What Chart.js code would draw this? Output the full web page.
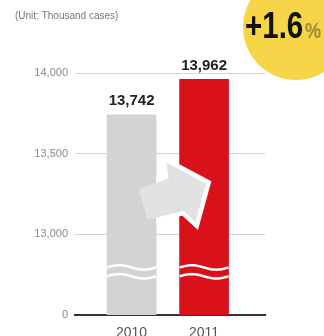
<!DOCTYPE html>
<html><head><meta charset="utf-8">
<script src="https://cdn.jsdelivr.net/npm/chart.js@4/dist/chart.umd.min.js"></script>
<style>html,body{margin:0;padding:0;background:#fff;}#wrap{width:324px;height:336px;position:relative;}</style>
</head><body><div id="wrap"><canvas id="c" width="324" height="336"></canvas></div>
<script>
const categories = ['2010', '2011'];
const values = [13742, 13962];
const barColors = ['#d3d3d3', '#d9111b'];
const tickValues = [12500, 13000, 13500, 14000];
const tickLabels = ['0', '13,000', '13,500', '14,000'];
const unitText = '(Unit: Thousand cases)';
const changeText = '+1.6';
const changeUnit = '%';

const F = "'Liberation Sans', Arial, sans-serif";

const deco = {
  id: 'deco',
  beforeDraw(chart) {
    const ctx = chart.ctx;
    ctx.save();
    ctx.fillStyle = '#fff';
    ctx.fillRect(0, 0, chart.width, chart.height);
    ctx.restore();
  },
  afterDatasetsDraw(chart) {
    const ctx = chart.ctx;
    const meta = chart.getDatasetMeta(0);
    const ys = chart.scales.y;
    const b0 = meta.data[0], b1 = meta.data[1];
    // wavy breaks
    ctx.save();
    ctx.strokeStyle = '#fff';
    ctx.lineWidth = 2.5;
    [12795, 12740].forEach(v => {
      const y = ys.getPixelForValue(v);
      meta.data.forEach(b => {
        const l = b.x - b.width / 2, w = b.width;
        ctx.beginPath();
        for (let i = 0; i <= 40; i++) {
          const t = i / 40;
          const x = l + t * w;
          const yy = y - 2.2 * Math.sin(t * Math.PI * 2);
          if (i === 0) ctx.moveTo(x, yy); else ctx.lineTo(x, yy);
        }
        ctx.stroke();
      });
    });
    ctx.restore();
    // arrow
    const cy = ys.getPixelForValue(13265);
    const x0 = b0.x + 7, x1 = b1.x + 2;
    const pts = [
      [x0, cy - 3], [x0 + 30, cy - 13], [x0 + 28, cy - 29],
      [x1, cy - 8], [x0 + 57, cy + 30], [x0 + 45, cy + 19], [x0 + 9, cy + 28]
    ];
    const path = () => {
      ctx.beginPath();
      pts.forEach((p, i) => i ? ctx.lineTo(p[0], p[1]) : ctx.moveTo(p[0], p[1]));
      ctx.closePath();
    };
    ctx.save();
    ctx.beginPath();
    ctx.rect(b0.x + b0.width / 2, 0, chart.width, chart.height);
    ctx.clip();
    path();
    ctx.lineJoin = 'miter';
    ctx.strokeStyle = '#fff';
    ctx.lineWidth = 9;
    ctx.stroke();
    ctx.restore();
    ctx.save();
    path();
    ctx.fillStyle = '#d8d8d8';
    ctx.fill();
    ctx.clip();
    ctx.strokeStyle = 'rgba(255,255,255,0.75)';
    ctx.lineWidth = 1;
    for (let k = -120; k < 120; k += 3) {
      ctx.beginPath();
      ctx.moveTo(x0 + k, cy + 40);
      ctx.lineTo(x0 + k + 80, cy - 40);
      ctx.stroke();
    }
    ctx.restore();
    // value labels
    ctx.save();
    ctx.fillStyle = '#222';
    ctx.font = 'bold 15px ' + F;
    ctx.textAlign = 'center';
    ctx.textBaseline = 'bottom';
    meta.data.forEach((b, i) => {
      ctx.fillText(values[i].toLocaleString('en-US'), b.x, b.y - 6);
    });
    ctx.restore();
  },
  afterDraw(chart) {
    const ctx = chart.ctx;
    ctx.save();
    ctx.fillStyle = '#777';
    ctx.font = '10px ' + F;
    ctx.textBaseline = 'middle';
    ctx.fillText(unitText, 15, 16);
    // badge
    ctx.beginPath();
    ctx.arc(296, 27, 53, 0, Math.PI * 2);
    ctx.fillStyle = '#f7d548';
    ctx.fill();
    ctx.save();
    ctx.translate(245, 38);
    ctx.scale(0.82, 1);
    ctx.fillStyle = '#111';
    ctx.font = 'bold 36px ' + F;
    ctx.textBaseline = 'alphabetic';
    ctx.fillText(changeText, 0, 0);
    const w = ctx.measureText(changeText).width;
    ctx.fillStyle = '#9a8740';
    ctx.font = 'bold 22px ' + F;
    ctx.fillText(changeUnit, w + 2, 0);
    ctx.restore();
    ctx.restore();
  }
};

new Chart(document.getElementById('c'), {
  type: 'bar',
  data: {
    datasets: [{
      data: categories.map((c, i) => ({ x: i, y: values[i] })),
      backgroundColor: barColors,
      barThickness: 49,
      borderWidth: 0
    }]
  },
  options: {
    responsive: false,
    animation: false,
    layout: { padding: { top: 57, right: 59, left: 0, bottom: 0 } },
    plugins: { legend: { display: false }, tooltip: { enabled: false } },
    scales: {
      x: {
        type: 'linear',
        offset: false,
        min: -0.78, max: 1.84,
        afterBuildTicks: s => { s.ticks = categories.map((c, i) => ({ value: i })); },
        afterFit: s => { s.height = 21; },
        ticks: {
          callback: v => categories[v] ?? '',
          color: '#555', font: { size: 14, family: F }, padding: 2, maxRotation: 0
        },
        grid: { display: false, offset: false },
        border: { display: true, color: '#333', width: 2 }
      },
      y: {
        min: 12500, max: 14100,
        afterBuildTicks: s => { s.ticks = tickValues.map(v => ({ value: v })); },
        afterFit: s => { s.width = 75; },
        ticks: {
          callback: (v) => tickLabels[tickValues.indexOf(v)] ?? '',
          color: '#8a8a8a', font: { size: 11, family: F }, padding: 7
        },
        grid: {
          drawTicks: false,
          color: c => c.tick && c.tick.value === 12500 ? 'rgba(0,0,0,0)' : '#d4d4d4',
          lineWidth: 1
        },
        border: { display: false }
      }
    }
  },
  plugins: [deco]
});
</script>
</body></html>
